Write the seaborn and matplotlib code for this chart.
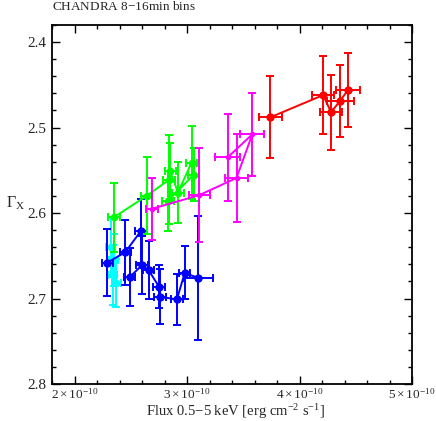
import pandas as pd
import numpy as np
import matplotlib
matplotlib.use("Agg")
import matplotlib.pyplot as plt
from matplotlib.ticker import MultipleLocator
import seaborn as sns

# datos (flujo en unidades de 1e-10 erg cm-2 s-1)
rojo_x = [3.74, 4.21, 4.28, 4.36, 4.43]
rojo_y = [2.488, 2.462, 2.482, 2.469, 2.456]
rojo_ey = [0.048, 0.046, 0.044, 0.042, 0.043]
rojo_ex = [0.10, 0.10, 0.10, 0.12, 0.11]

mag_x = [2.69, 3.11, 3.44, 3.58, 3.36]
mag_y = [2.595, 2.579, 2.559, 2.508, 2.535]
mag_ey = [0.036, 0.055, 0.051, 0.049, 0.051]
mag_ex = [0.055, 0.09, 0.104, 0.105, 0.107]

verde_x = [2.35, 2.64, 2.84, 2.85, 2.92, 3.04, 3.06, 2.83]
verde_y = [2.605, 2.580, 2.561, 2.551, 2.576, 2.541, 2.555, 2.586]
verde_ey = [0.040, 0.045, 0.052, 0.033, 0.036, 0.043, 0.031, 0.035]
verde_ex = [0.05, 0.05, 0.05, 0.05, 0.05, 0.05, 0.05, 0.05]

cian_x = [2.32, 2.35, 2.34, 2.37]
cian_y = [2.640, 2.655, 2.672, 2.682]
cian_ey = [0.035, 0.030, 0.035, 0.028]
cian_ex = [0.04, 0.04, 0.04, 0.04]

azul_x = [2.29, 2.45, 2.59, 2.49, 2.60, 2.66, 2.75, 2.76, 2.91, 2.98, 3.10]
azul_y = [2.658, 2.646, 2.621, 2.675, 2.661, 2.667, 2.686, 2.698, 2.701, 2.670, 2.676]
azul_ey = [0.039, 0.038, 0.037, 0.034, 0.034, 0.034, 0.025, 0.032, 0.030, 0.031, 0.072]
azul_ex = [0.05, 0.05, 0.05, 0.05, 0.05, 0.05, 0.05, 0.05, 0.05, 0.05, 0.13]
azul_tramo = [0, 0, 0, 1, 1, 1, 1, 1, 1, 1, 1]

series = [
    ("cyan", cian_x, cian_y, cian_ex, cian_ey, None, 4.5),
    ("#0000ff", azul_x, azul_y, azul_ex, azul_ey, azul_tramo, 5),
    ("#00ff00", verde_x, verde_y, verde_ex, verde_ey, None, 4.5),
    ("#ff00ff", mag_x, mag_y, mag_ex, mag_ey, None, 3),
    ("#ff0000", rojo_x, rojo_y, rojo_ex, rojo_ey, None, 5),
]

sns.set_style("ticks")
plt.rcParams['font.family'] = ['Liberation Serif', 'DejaVu Serif']
plt.rcParams['mathtext.fontset'] = 'custom'
plt.rcParams['mathtext.rm'] = 'Liberation Serif'
plt.rcParams['mathtext.it'] = 'Liberation Serif:italic'

fig = plt.figure(figsize=(4.36, 4.21), dpi=100)
ax = fig.add_axes([52/436, 37/421, 360/436, 359/421])

for color, xs, ys, ex, ey, tramo, ms in series:
    df = pd.DataFrame({"x": xs, "y": ys,
                       "tramo": tramo if tramo is not None else [0]*len(xs)})
    ax.errorbar(df["x"], df["y"], xerr=ex, yerr=ey, fmt='none', ecolor=color,
                elinewidth=1.4, capsize=3, capthick=1.4)
    sns.lineplot(data=df, x="x", y="y", units="tramo", estimator=None, sort=False,
                 color=color, linewidth=1.4, ax=ax)
    ax.plot(df["x"], df["y"], 'o', color=color, markersize=ms, linestyle='none')

ax.set_xlim(1.8, 5.0)
ax.set_ylim(2.8, 2.38)
ax.set_xticks([2, 3, 4, 5])
ax.set_xticklabels([r'$2\times10^{-10}$', r'$3\times10^{-10}$',
                    r'$4\times10^{-10}$', r'$5\times10^{-10}$'])
ax.xaxis.set_minor_locator(MultipleLocator(0.2))
ax.set_yticks([2.4, 2.5, 2.6, 2.7, 2.8])
ax.set_yticklabels(['2.4', '2.5', '2.6', '2.7', '2.8'])
ax.yaxis.set_minor_locator(MultipleLocator(0.02))
ax.tick_params(which='both', direction='in', top=True, right=True,
               width=1.0, color='black')
ax.tick_params(axis='x', labelsize=9.5, pad=2)
ax.tick_params(axis='y', labelsize=11, pad=4)
ax.tick_params(which='major', length=6)
ax.tick_params(which='minor', length=3)
for s in ax.spines.values():
    s.set_linewidth(1.3)
    s.set_color('black')

ax.set_xlabel('')
fig.text(235/436, 1 - 416/421, r'Flux 0.5$-$5 keV [erg cm$^{-2}$ s$^{-1}$]',
         fontsize=10.5, ha='center', va='baseline')
ax.set_ylabel(r'$\Gamma_{\rm X}$', fontsize=11.5, rotation=0)
ax.yaxis.set_label_coords(-0.1, 0.48)
fig.text(52/436, 1 - 10/421, 'CHANDRA 8$-$16min bins', fontsize=9.5,
         ha='left', va='baseline')

fig.savefig("out.png", dpi=100)
